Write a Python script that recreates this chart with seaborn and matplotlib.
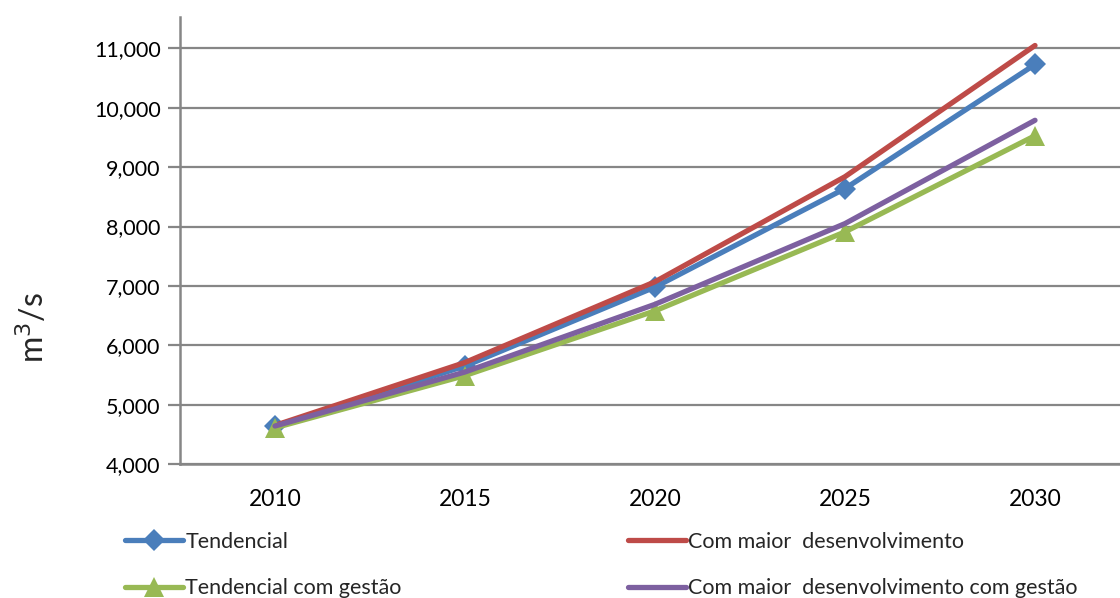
import matplotlib
matplotlib.use("Agg")
import matplotlib.pyplot as plt
import seaborn as sns
import pandas as pd
from matplotlib.ticker import FuncFormatter, FixedLocator

# Demand projections (m3/s) by scenario
years = ["2010", "2015", "2020", "2025", "2030"]
tendencial = [4640, 5650, 6980, 8640, 10730]
maior_desenv = [4650, 5710, 7070, 8840, 11050]
tendencial_gestao = [4610, 5490, 6580, 7910, 9530]
maior_desenv_gestao = [4640, 5550, 6690, 8050, 9790]

series = [
    ("Tendencial", tendencial, "#4A7EBB", "D", 11),
    ("Com maior  desenvolvimento", maior_desenv, "#BE4B48", None, 0),
    ("Tendencial com gestão", tendencial_gestao, "#98B954", "^", 14),
    ("Com maior  desenvolvimento com gestão", maior_desenv_gestao, "#7D60A0", None, 0),
]

sns.set_theme(style="white")
plt.rcParams["font.family"] = ["Lato", "DejaVu Sans"]

W, H = 1120, 598
fig = plt.figure(figsize=(W / 100, H / 100), dpi=100)
ax = fig.add_axes([180 / W, 1 - 464 / H, 950 / W, (464 - 17) / H])

grey = "#868686"
for name, vals, color, marker, ms in series:
    df = pd.DataFrame({"x": range(len(years)), "y": vals})
    kw = dict(marker=marker, markersize=ms, markeredgewidth=0) if marker else {}
    sns.lineplot(data=df, x="x", y="y", ax=ax, color=color, linewidth=3.8,
                 label=name, solid_capstyle="round", **kw)

ax.set_xlim(-0.5, len(years) - 0.5)
ax.set_ylim(4000, 11530)
ax.yaxis.set_major_locator(FixedLocator(range(4000, 11001, 1000)))
ax.yaxis.set_major_formatter(FuncFormatter(lambda v, p: f"{int(v):,}"))
ax.set_xticks(range(len(years)))
ax.set_xticklabels(years)
ax.set_xticks([i - 0.5 for i in range(len(years) + 1)], minor=True)
ax.tick_params(axis="x", which="major", length=0, pad=18, labelsize=16.5, colors="black")
ax.tick_params(axis="x", which="minor", length=7, width=1.6, color=grey, direction="out")
ax.tick_params(axis="y", which="major", length=9, width=1.6, color=grey, direction="out",
               pad=5, labelsize=15.5, labelcolor="black", left=True)
ax.grid(axis="y", color=grey, linewidth=1.6)
ax.grid(axis="x", visible=False)
ax.set_axisbelow(True)
for s in ["top", "right"]:
    ax.spines[s].set_visible(False)
for s in ["left", "bottom"]:
    ax.spines[s].set_color(grey)
    ax.spines[s].set_linewidth(1.8)

ax.set_xlabel("")
ax.set_ylabel("m$^3$/s", fontsize=23)
ax.yaxis.set_label_coords(-(180 - 50) / 950, (464 - 328) / (464 - 17))

handles, labels = ax.get_legend_handles_labels()
ax.get_legend().remove()
order = [0, 2, 1, 3]
fig.legend([handles[i] for i in order], [labels[i] for i in order],
           loc="center left", bbox_to_anchor=(125 / W, 1 - 565 / H), ncol=2,
           frameon=False, fontsize=15.5, handlelength=2.7, handletextpad=0.1,
           columnspacing=10.5, labelspacing=1.25, borderaxespad=0, borderpad=0)

fig.savefig("out.png", dpi=100)
